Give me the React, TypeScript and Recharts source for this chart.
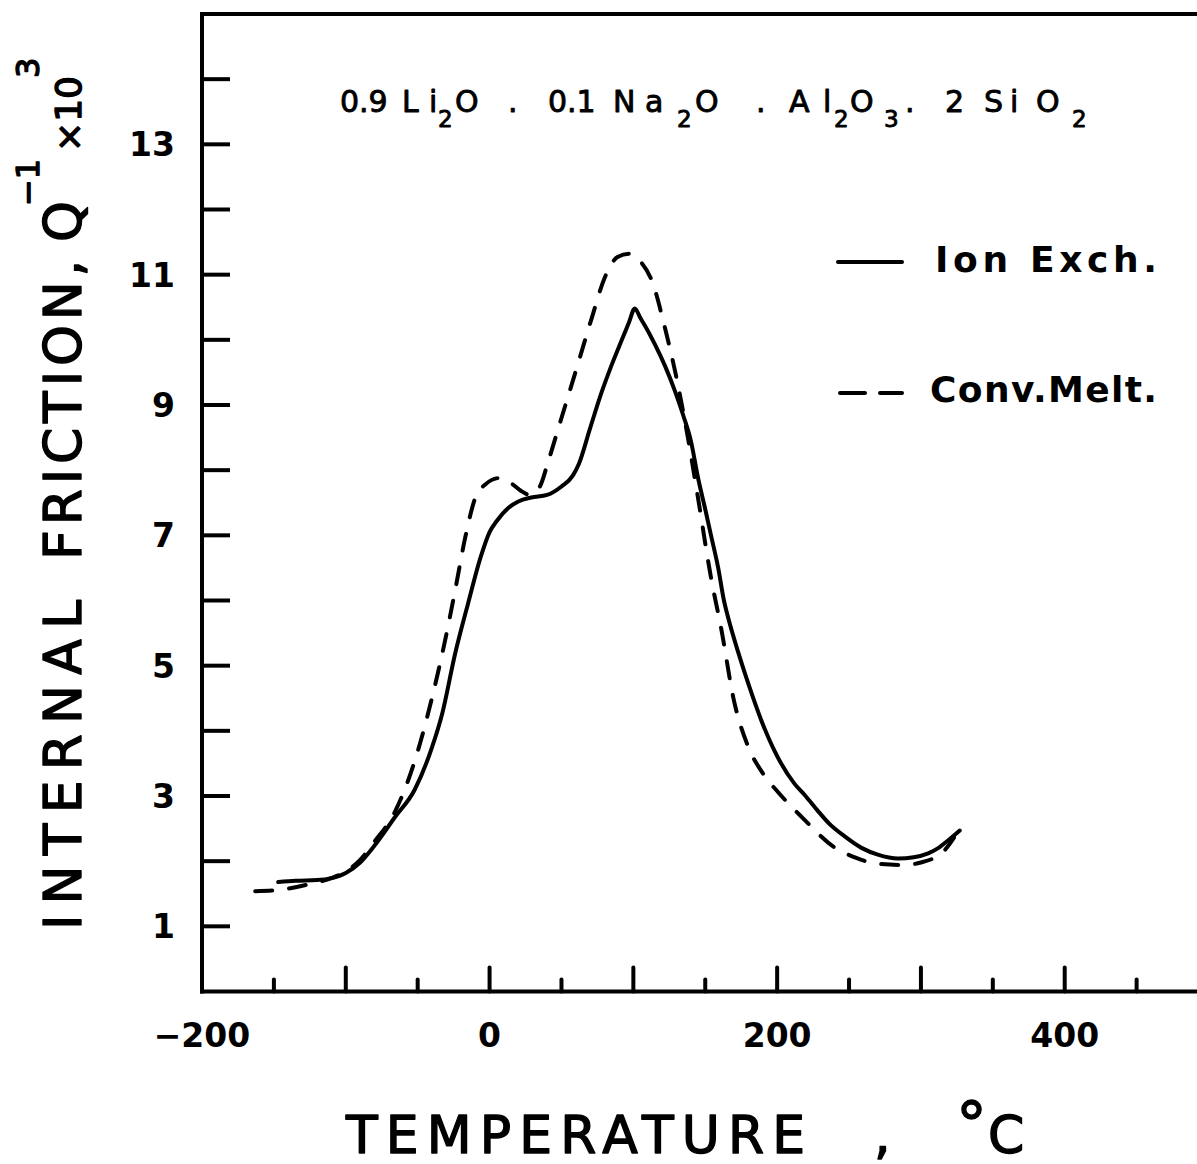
import React from 'react';
import { LineChart, Line, XAxis, YAxis, ReferenceLine, Legend } from 'recharts';

// Ion-exchanged glass: temperature (°C) and internal friction (Q⁻¹ × 10³)
const ionExchTemp = [
  -147, -135, -120, -110, -100, -90, -80, -66, -52, -40, -33, -24, -15, -6, 0, 5, 13, 20, 29, 40,
  50, 58, 62, 70, 78, 85, 92, 97, 101, 105, 108, 115, 122, 129, 135, 140, 145, 150, 154, 159, 163, 166,
  173, 180, 189, 198, 212, 219, 228, 236, 247, 259, 270, 284, 295, 305, 312, 319, 327,
];
const ionExchQ = [
  1.68, 1.7, 1.71, 1.74, 1.82, 1.98, 2.24, 2.67, 3.1, 3.75, 4.26, 5.18, 5.95, 6.68, 7.05, 7.22, 7.42, 7.52, 7.58, 7.62,
  7.75, 7.92, 8.09, 8.65, 9.2, 9.62, 10.0, 10.27, 10.48, 10.33, 10.22, 9.93, 9.6, 9.21, 8.82, 8.45, 7.88, 7.4, 7.0, 6.5, 6.0, 5.73,
  5.2, 4.72, 4.16, 3.7, 3.19, 3.02, 2.78, 2.58, 2.38, 2.2, 2.1, 2.04, 2.06, 2.12, 2.2, 2.32, 2.47,
];

// Conventionally melted glass
const convMeltTemp = [
  -163, -150, -140, -125, -110, -100, -90, -80, -66, -52, -40, -31, -24, -17, -10, -3, 7, 15, 22, 28,
  35, 41, 50, 59, 71, 80, 89, 97, 105, 113, 122, 129, 138, 145, 154, 161, 170, 180, 190, 201,
  217, 240, 255, 270, 289, 300, 310, 317, 323,
];
const convMeltQ = [
  1.54, 1.55, 1.58, 1.65, 1.74, 1.84, 2.02, 2.3, 2.75, 3.54, 4.51, 5.38, 6.15, 6.96, 7.57, 7.78, 7.88, 7.8, 7.68, 7.62,
  7.75, 8.15, 8.8, 9.45, 10.33, 10.95, 11.27, 11.32, 11.2, 10.9, 10.18, 9.52, 8.49, 7.57, 6.35, 5.58, 4.46, 3.75, 3.35, 3.05,
  2.68, 2.21, 2.05, 1.96, 1.94, 1.98, 2.06, 2.18, 2.36,
];

const xTicks = [-200, -150, -100, -50, 0, 50, 100, 150, 200, 250, 300, 350, 400, 450];
const xTickLabels = [-200, 0, 200, 400];
const yTicks = [1, 2, 3, 4, 5, 6, 7, 8, 9, 10, 11, 12, 13, 14];
const yTickLabels = [1, 3, 5, 7, 9, 11, 13];

const seriesNames = ['Ion  Exch.', 'Conv.Melt.'];

const ionExchData = ionExchTemp.map((t, i) => ({ t, q: ionExchQ[i] }));
const convMeltData = convMeltTemp.map((t, i) => ({ t, q: convMeltQ[i] }));

const FONT = "'DejaVu Sans', 'Liberation Sans', sans-serif";
const INK = '#000';

const formatTick = (v: number) => (v < 0 ? `\u2212${Math.abs(v)}` : `${v}`);

// Bottom axis: ticks point up into the plot, longer at every 100 °C
const XTick = (props: any) => {
  const { x, y, payload } = props;
  const v = payload.value as number;
  const len = v % 100 === 0 ? 24 : 12;
  return (
    <g>
      {v !== -200 && (
        <line x1={x} x2={x} y1={y} y2={y - len} stroke={INK} strokeWidth={4} strokeLinecap="round" />
      )}
      {xTickLabels.includes(v) && (
        <text x={x} y={y + 55} textAnchor="middle" fontSize={33} fontWeight="bold" fontFamily={FONT} fill={INK}>
          {formatTick(v)}
        </text>
      )}
    </g>
  );
};

// Left axis: ticks point right into the plot, labels on odd values
const YTick = (props: any) => {
  const { x, y, payload } = props;
  const v = payload.value as number;
  return (
    <g>
      <line x1={x} x2={x + 28} y1={y} y2={y} stroke={INK} strokeWidth={4} />
      {yTickLabels.includes(v) && (
        <text x={x - 27} y={y} dy="0.36em" textAnchor="end" fontSize={33} fontWeight="bold" fontFamily={FONT} fill={INK}>
          {v}
        </text>
      )}
    </g>
  );
};

const LegendBox = () => (
  <svg width={360} height={190} style={{ display: 'block', overflow: 'visible' }}>
    <line x1={8} x2={72} y1={32} y2={32} stroke={INK} strokeWidth={4} strokeLinecap="round" />
    <text x={105} y={42} fontSize={36} fontWeight="bold" fontFamily={FONT} fill={INK} textLength={222} lengthAdjust="spacing">
      {seriesNames[0]}
    </text>
    <line x1={10} x2={35} y1={163} y2={163} stroke={INK} strokeWidth={4} strokeLinecap="round" />
    <line x1={50} x2={72} y1={163} y2={163} stroke={INK} strokeWidth={4} strokeLinecap="round" />
    <text x={100} y={172} fontSize={36} fontWeight="bold" fontFamily={FONT} fill={INK} textLength={227} lengthAdjust="spacing">
      {seriesNames[1]}
    </text>
  </svg>
);

// Composition line with subscripts
const titleParts: { x: number; s: string; sub?: boolean }[] = [
  { x: 340, s: '0.9' },
  { x: 402, s: 'L' },
  { x: 429, s: 'i' },
  { x: 438, s: '2', sub: true },
  { x: 455, s: 'O' },
  { x: 508, s: '.' },
  { x: 548, s: '0.1' },
  { x: 613, s: 'N' },
  { x: 645, s: 'a' },
  { x: 677, s: '2', sub: true },
  { x: 695, s: 'O' },
  { x: 756, s: '.' },
  { x: 789, s: 'A' },
  { x: 823, s: 'l' },
  { x: 834, s: '2', sub: true },
  { x: 850, s: 'O' },
  { x: 884, s: '3', sub: true },
  { x: 905, s: '.' },
  { x: 945, s: '2' },
  { x: 984, s: 'S' },
  { x: 1010, s: 'i' },
  { x: 1036, s: 'O' },
  { x: 1072, s: '2', sub: true },
];

const Annotations = () => (
  <svg
    width={1197}
    height={1164}
    style={{ position: 'absolute', left: 0, top: 0, pointerEvents: 'none' }}
    fontFamily={FONT}
    fill={INK}
  >
    <text stroke={INK} strokeWidth={0.9} strokeLinejoin="round">
      {titleParts.map((p, i) => (
        <tspan key={i} x={p.x} y={p.sub ? 127 : 112} fontSize={p.sub ? 23 : 30}>
          {p.s}
        </tspan>
      ))}
    </text>

    {/* x-axis title */}
    <g stroke={INK} strokeWidth={1.4} strokeLinejoin="round">
      <text x={346} y={1153} fontSize={52} textLength={459} lengthAdjust="spacing">
        TEMPERATURE
      </text>
      <text y={1153}>
        <tspan x={874} fontSize={52}>,</tspan>
        <tspan x={956} y={1146} fontSize={62}>°</tspan>
        <tspan x={988} y={1153} fontSize={52}>C</tspan>
      </text>
    </g>

    {/* y-axis title, reading bottom to top */}
    <g transform="translate(81 930) rotate(-90)" stroke={INK} strokeWidth={1.4} strokeLinejoin="round">
      <text x={0} y={0} fontSize={52} textLength={330} lengthAdjust="spacing">
        INTERNAL
      </text>
      <text x={370} y={0} fontSize={52} textLength={300} lengthAdjust="spacing">
        FRICTION,
      </text>
      <text y={0}>
        <tspan x={688} fontSize={52}>Q</tspan>
        <tspan x={724} y={-42} fontSize={32}>{'\u22121'}</tspan>
        <tspan x={778} y={0} fontSize={36}>{'\u00d710'}</tspan>
        <tspan x={852} y={-42} fontSize={32}>3</tspan>
      </text>
    </g>
  </svg>
);

export default function App() {
  return (
    <div
      style={{
        position: 'absolute',
        left: 0,
        top: 0,
        width: 1197,
        height: 1164,
        background: '#fff',
        overflow: 'hidden',
        fontFamily: FONT,
      }}
    >
      <LineChart width={1197} height={1164} margin={{ top: 14, right: 0, bottom: 112.5, left: 0 }}>
        <XAxis
          type="number"
          dataKey="t"
          domain={[-200, 492]}
          ticks={xTicks}
          interval={0}
          allowDataOverflow
          height={60}
          tickSize={0}
          tickMargin={0}
          tickLine={false}
          axisLine={{ stroke: INK, strokeWidth: 4, strokeLinecap: 'square' }}
          tick={(p: any) => <XTick {...p} />}
        />
        <YAxis
          type="number"
          domain={[0, 15]}
          ticks={yTicks}
          interval={0}
          allowDataOverflow
          width={202}
          tickSize={0}
          tickMargin={0}
          tickLine={false}
          axisLine={{ stroke: INK, strokeWidth: 4, strokeLinecap: 'square' }}
          tick={(p: any) => <YTick {...p} />}
        />
        <ReferenceLine y={15} stroke={INK} strokeWidth={4} strokeLinecap="square" />
        <Legend
          layout="horizontal"
          verticalAlign="middle"
          align="center"
          content={() => <LegendBox />}
          wrapperStyle={{ left: 830, top: 230, width: 360, height: 190 }}
        />
        <Line
          data={ionExchData}
          dataKey="q"
          name={seriesNames[0]}
          type="monotone"
          stroke={INK}
          strokeWidth={4}
          strokeLinejoin="round"
          strokeLinecap="round"
          dot={false}
          activeDot={false}
          isAnimationActive={false}
        />
        <Line
          data={convMeltData}
          dataKey="q"
          name={seriesNames[1]}
          type="monotone"
          stroke={INK}
          strokeWidth={4}
          strokeDasharray="17 17"
          strokeLinecap="round"
          dot={false}
          activeDot={false}
          isAnimationActive={false}
        />
      </LineChart>
      <Annotations />
    </div>
  );
}
